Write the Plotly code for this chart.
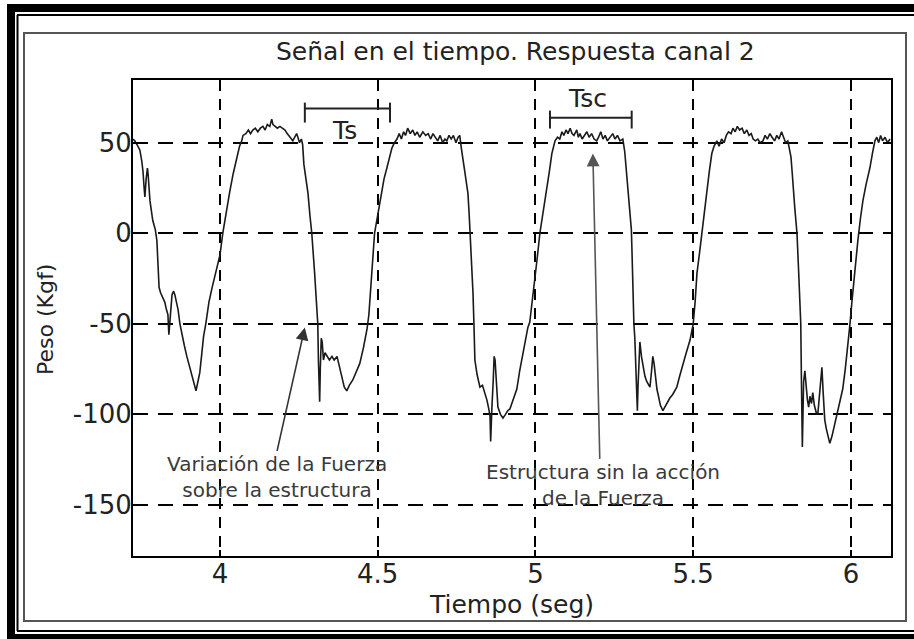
import plotly.graph_objects as go

# ---------------- data ----------------
tiempo = [3.724, 3.730, 3.740, 3.746, 3.752, 3.756, 3.760, 3.762, 3.766, 3.770, 3.772, 3.776, 3.778, 3.787, 3.795,
          3.800, 3.803, 3.807, 3.812, 3.820, 3.825, 3.830, 3.835, 3.838, 3.842, 3.848, 3.853, 3.857, 3.862, 3.867,
          3.873, 3.879, 3.887, 3.895, 3.905, 3.914, 3.920, 3.924, 3.930, 3.936, 3.942, 3.948, 3.955, 3.965, 3.975,
          3.984, 3.992, 4.000, 4.009, 4.020, 4.031, 4.042, 4.054, 4.062, 4.069, 4.073, 4.082, 4.090, 4.097, 4.104,
          4.112, 4.120, 4.128, 4.136, 4.143, 4.150, 4.158, 4.164, 4.168, 4.175, 4.182, 4.190, 4.199, 4.206, 4.213,
          4.222, 4.231, 4.237, 4.243, 4.247, 4.252, 4.258, 4.262, 4.266, 4.272, 4.279, 4.285, 4.291, 4.300, 4.307,
          4.310, 4.312, 4.314, 4.316, 4.318, 4.321, 4.324, 4.328, 4.333, 4.339, 4.347, 4.355, 4.362, 4.371, 4.379,
          4.386, 4.394, 4.402, 4.410, 4.421, 4.432, 4.443, 4.455, 4.466, 4.472, 4.478, 4.484, 4.490, 4.500, 4.510,
          4.520, 4.529, 4.537, 4.545, 4.553, 4.561, 4.568, 4.575, 4.582, 4.588, 4.595, 4.603, 4.611, 4.618, 4.625,
          4.633, 4.643, 4.652, 4.660, 4.668, 4.675, 4.683, 4.690, 4.698, 4.706, 4.713, 4.719, 4.726, 4.733, 4.740,
          4.748, 4.755, 4.760, 4.765, 4.770, 4.776, 4.781, 4.786, 4.790, 4.793, 4.798, 4.802, 4.805, 4.808, 4.815,
          4.824, 4.832, 4.840, 4.846, 4.852, 4.856, 4.858, 4.860, 4.862, 4.866, 4.869, 4.872, 4.876, 4.881, 4.889,
          4.897, 4.905, 4.912, 4.919, 4.930, 4.941, 4.950, 4.960, 4.968, 4.976, 4.982, 4.990, 4.998, 5.006, 5.014,
          5.025, 5.036, 5.044, 5.052, 5.058, 5.062, 5.070, 5.077, 5.084, 5.090, 5.097, 5.103, 5.110, 5.116, 5.122,
          5.131, 5.136, 5.141, 5.148, 5.155, 5.163, 5.170, 5.178, 5.186, 5.194, 5.200, 5.207, 5.214, 5.221, 5.228,
          5.236, 5.245, 5.252, 5.260, 5.268, 5.277, 5.283, 5.288, 5.294, 5.299, 5.304, 5.306, 5.309, 5.312, 5.315,
          5.318, 5.321, 5.323, 5.325, 5.328, 5.331, 5.336, 5.342, 5.347, 5.353, 5.358, 5.363, 5.368, 5.372, 5.376,
          5.380, 5.385, 5.390, 5.396, 5.404, 5.410, 5.418, 5.426, 5.435, 5.448, 5.457, 5.467, 5.478, 5.490, 5.500,
          5.506, 5.512, 5.520, 5.527, 5.535, 5.543, 5.551, 5.559, 5.566, 5.575, 5.582, 5.590, 5.598, 5.605, 5.612,
          5.620, 5.626, 5.633, 5.640, 5.647, 5.655, 5.662, 5.670, 5.677, 5.684, 5.690, 5.697, 5.705, 5.712, 5.721,
          5.728, 5.735, 5.743, 5.750, 5.758, 5.765, 5.772, 5.780, 5.786, 5.793, 5.800, 5.805, 5.810, 5.814, 5.816,
          5.819, 5.822, 5.826, 5.829, 5.834, 5.838, 5.841, 5.843, 5.845, 5.846, 5.848, 5.850, 5.854, 5.858, 5.862,
          5.866, 5.870, 5.875, 5.879, 5.884, 5.890, 5.895, 5.900, 5.904, 5.908, 5.912, 5.917, 5.922, 5.928, 5.933,
          5.940, 5.948, 5.955, 5.963, 5.970, 5.974, 5.982, 5.990, 5.997, 6.003, 6.010, 6.016, 6.022, 6.030, 6.038,
          6.048, 6.060, 6.068, 6.076, 6.082, 6.088, 6.094, 6.100, 6.108, 6.116, 6.124]

peso = [52, 51, 48, 46, 40, 34, 24, 20, 30, 36, 33, 22, 18, 7, 2,
        -4, -20, -30, -33, -36, -38, -42, -45, -56, -45, -34, -32, -34, -38, -42,
        -50, -56, -62, -68, -75, -81, -84, -87, -82, -77, -67, -57, -50, -38, -30,
        -24, -18, -12, 0, 12, 23, 33, 42, 48, 51, 54, 55, 57, 55, 57,
        58, 56, 58, 59, 57, 60, 59, 63, 60, 59, 58, 59, 58, 57, 55,
        53, 51, 53, 55, 53, 50, 52, 49, 38, 30, 22, 10, 0, -22, -40,
        -50, -70, -85, -93, -75, -58, -60, -70, -66, -68, -70, -68, -70, -68, -74,
        -79, -85, -87, -84, -81, -76, -72, -63, -53, -45, -30, -15, 0, 10, 20,
        30, 36, 42, 47, 50, 52, 55, 52, 56, 54, 58, 55, 57, 54, 56,
        53, 56, 54, 55, 52, 55, 53, 51, 54, 50, 52, 51, 54, 52, 54,
        50, 53, 54, 47, 40, 34, 28, 22, 10, 0, -20, -33, -50, -70, -78,
        -85, -84, -88, -92, -97, -101, -115, -100, -96, -82, -68, -70, -85, -96, -100,
        -102, -100, -98, -97, -92, -86, -76, -66, -58, -52, -49, -38, -26, -13, 0,
        12, 23, 34, 44, 48, 51, 53, 52, 56, 54, 57, 55, 58, 55, 54,
        57, 53, 55, 52, 54, 56, 53, 55, 52, 51, 53, 56, 52, 54, 51,
        53, 55, 52, 54, 51, 52, 45, 35, 25, 14, 2, -10, -40, -50, -58,
        -70, -82, -98, -85, -65, -60, -68, -75, -79, -82, -84, -85, -76, -68, -72,
        -80, -86, -90, -95, -98, -96, -93, -91, -89, -85, -79, -72, -66, -59, -50,
        -38, -22, -11, 0, 12, 23, 34, 44, 48, 51, 48, 52, 50, 54, 56,
        55, 58, 56, 59, 57, 58, 55, 57, 54, 55, 52, 51, 52, 50, 51,
        54, 52, 55, 53, 51, 54, 52, 56, 53, 50, 51, 47, 42, 33, 27,
        20, 14, 6, 0, -20, -40, -50, -80, -105, -118, -100, -82, -76, -85, -92,
        -96, -90, -94, -88, -95, -99, -100, -88, -80, -74, -88, -103, -108, -113, -116,
        -112, -106, -102, -96, -90, -86, -75, -63, -50, -38, -24, -13, -4, 8, 18,
        27, 36, 44, 51, 53, 50, 54, 51, 53, 50, 52]

x_ticks = [4, 4.5, 5, 5.5, 6]
x_tick_labels = ["4", "4.5", "5", "5.5", "6"]
y_ticks = [-150, -100, -50, 0, 50]
y_tick_labels = ["-150", "-100", "-50", "0", "50"]

titulo = "Señal en el tiempo. Respuesta canal 2"
x_titulo = "Tiempo (seg)"
y_titulo = "Peso (Kgf)"
nota_1 = "Variación de la Fuerza<br>sobre la estructura"
nota_2 = "Estructura sin la acción<br>de la Fuerza"

# ---------------- layout geometry ----------------
W, H = 914, 639
L, R, T, B = 133, 891, 80, 556  # plot area in pixels


def px(xp):
    return (xp - L) / (R - L)


def py(yp):
    return (B - yp) / (B - T)


FONT = "DejaVu Sans"
TXT = "#222222"

fig = go.Figure()
fig.add_trace(go.Scatter(x=tiempo, y=peso, mode="lines",
                         line=dict(color="#1a1a1a", width=1.6),
                         showlegend=False, hoverinfo="skip"))

shapes = []
# outer black frame (top, left, bottom thick bands)
for x0, y0, x1, y1 in [(7, 4, 920, 12), (7, 4, 15, 645), (7, 634, 920, 645)]:
    shapes.append(dict(type="rect", xref="paper", yref="paper",
                       x0=px(x0), x1=px(x1), y0=py(y0), y1=py(y1),
                       line=dict(width=0), fillcolor="black", layer="above"))
# thin black lines
for x0, y0, x1, y1 in [(17, 15, 920, 15), (17.5, 15, 17.5, 631), (17, 631, 920, 631)]:
    shapes.append(dict(type="line", xref="paper", yref="paper",
                       x0=px(x0), x1=px(x1), y0=py(y0), y1=py(y1),
                       line=dict(color="black", width=2), layer="above"))
# inner gray frame
shapes.append(dict(type="rect", xref="paper", yref="paper",
                   x0=px(24), x1=px(906), y0=py(621), y1=py(33),
                   line=dict(color="#555555", width=2), fillcolor="rgba(0,0,0,0)", layer="above"))

# brackets Ts and Tsc (data coordinates)
brackets = [(4.269, 4.539, 68.8, 72.1, 61.1), (5.046, 5.305, 63.7, 67.7, 57.8)]
for xa, xb, yc, ytop, ybot in brackets:
    shapes.append(dict(type="line", xref="x", yref="y", x0=xa, x1=xb, y0=yc, y1=yc,
                       line=dict(color="#222", width=2)))
    for xe in (xa, xb):
        shapes.append(dict(type="line", xref="x", yref="y", x0=xe, x1=xe, y0=ybot, y1=ytop,
                           line=dict(color="#222", width=2)))

annotations = [
    dict(text=titulo, xref="paper", yref="paper", x=px(515), y=py(51), showarrow=False,
         xanchor="center", yanchor="middle", font=dict(family=FONT, size=25, color=TXT)),
    dict(text=x_titulo, xref="paper", yref="paper", x=px(511), y=py(604), showarrow=False,
         xanchor="center", yanchor="middle", font=dict(family=FONT, size=25, color=TXT)),
    dict(text=y_titulo, xref="paper", yref="paper", x=px(45), y=py(320), showarrow=False,
         textangle=-90, xanchor="center", yanchor="middle", font=dict(family=FONT, size=22, color=TXT)),
    dict(text="Ts", xref="x", yref="y", x=4.396, y=56.7, showarrow=False,
         xanchor="center", yanchor="middle", font=dict(family=FONT, size=25, color=TXT)),
    dict(text="Tsc", xref="x", yref="y", x=5.166, y=74.3, showarrow=False,
         xanchor="center", yanchor="middle", font=dict(family=FONT, size=25, color=TXT)),
    dict(text=nota_1, xref="x", yref="y", x=4.180, y=-134.5, showarrow=False,
         xanchor="center", yanchor="middle", align="center",
         font=dict(family=FONT, size=20, color="#3a3a3a")),
    dict(text=nota_2, xref="x", yref="y", x=5.213, y=-139.0, showarrow=False,
         xanchor="center", yanchor="middle", align="center",
         font=dict(family=FONT, size=20, color="#3a3a3a")),
    # arrows
    dict(text="", xref="x", yref="y", axref="x", ayref="y", x=4.269, y=-52.0, ax=4.180, ay=-121.0,
         showarrow=True, arrowhead=2, arrowsize=1.6, arrowwidth=1.6, arrowcolor="#333", standoff=0),
    dict(text="", xref="x", yref="y", axref="x", ayref="y", x=5.182, y=44.0, ax=5.204, ay=-125.4,
         showarrow=True, arrowhead=2, arrowsize=1.6, arrowwidth=1.6, arrowcolor="#555", standoff=0),
]

axis_common = dict(showline=True, linecolor="black", linewidth=2, mirror="ticks",
                   ticks="inside", ticklen=6, tickwidth=1.5, tickcolor="black",
                   showgrid=True, gridcolor="black", gridwidth=1.8, zeroline=False,
                   ticklabelstandoff=-6,
                   tickfont=dict(family=FONT, size=26, color=TXT))

fig.update_layout(
    width=W, height=H, autosize=False,
    margin=dict(l=L, r=W - R, t=T, b=H - B, pad=0),
    paper_bgcolor="white", plot_bgcolor="white",
    xaxis=dict(range=[3.7243, 6.127], tickvals=x_ticks, ticktext=x_tick_labels,
               griddash="11px,8px", **axis_common),
    yaxis=dict(range=[-178.2, 84.6], tickvals=y_ticks, ticktext=y_tick_labels,
               griddash="15px,10px", **axis_common),
    shapes=shapes, annotations=annotations, showlegend=False,
)

fig.write_html("out.html", config={"displayModeBar": False},
               post_script="document.body.style.margin='0px';")
